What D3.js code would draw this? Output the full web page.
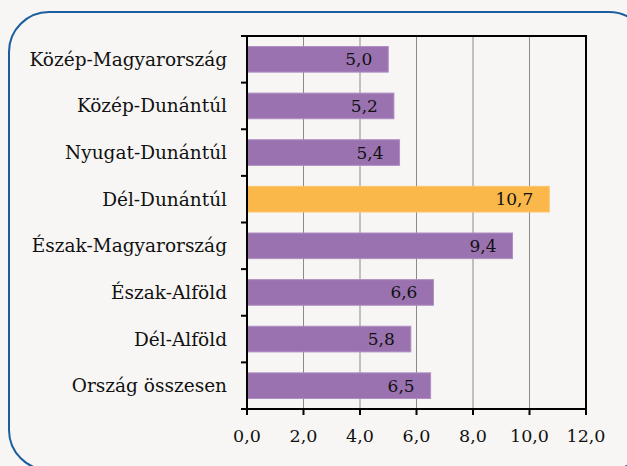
<!DOCTYPE html>
<html>
  <head>
    <meta charset="utf-8" />
    <script src="https://d3js.org/d3.v7.min.js"></script>
    <style>
      body { margin: 0; background: #f7f6f4; }
      svg { display: block; }
    </style>
  </head>
  <body>
    <svg width="627" height="466"></svg>
    <script>
      const regions = [
        "Közép-Magyarország",
        "Közép-Dunántúl",
        "Nyugat-Dunántúl",
        "Dél-Dunántúl",
        "Észak-Magyarország",
        "Észak-Alföld",
        "Dél-Alföld",
        "Ország összesen",
      ];
      const values = [5.0, 5.2, 5.4, 10.7, 9.4, 6.6, 5.8, 6.5];
      const highlighted = ["Dél-Dunántúl"];
      const xTicks = [0, 2, 4, 6, 8, 10, 12];

      const fmt = (v) => v.toFixed(1).replace(".", ",");
      const font = "'DejaVu Serif', serif";
      const svg = d3.select("svg")
        .attr("font-family", font)
        .style("font-family", font);

      // keret
      svg.append("rect")
        .attr("x", 9).attr("y", 12)
        .attr("width", 640).attr("height", 458)
        .attr("rx", 40)
        .attr("fill", "#f7f6f4")
        .attr("stroke", "#1a5e9e")
        .attr("stroke-width", 2);

      const plotL = 247, plotR = 586, plotT = 36, plotB = 409;

      const x = d3.scaleLinear().domain([0, 12]).range([plotL, plotR]);
      const y = d3.scaleBand().domain(regions).range([plotT, plotB]).paddingInner(0.45).paddingOuter(0.225);
      const yEdge = d3.scaleLinear().domain([0, regions.length]).range([plotT, plotB]);

      // rács
      svg.append("g")
        .selectAll("line")
        .data(xTicks.slice(1, -1))
        .join("line")
        .attr("x1", (d) => x(d)).attr("x2", (d) => x(d))
        .attr("y1", plotT).attr("y2", plotB)
        .attr("stroke", "#8a8a8a").attr("stroke-width", 1);

      // oszlopok
      svg.append("g")
        .selectAll("rect")
        .data(regions)
        .join("rect")
        .attr("x", x(0))
        .attr("y", (d) => y(d))
        .attr("width", (d, i) => x(values[i]) - x(0))
        .attr("height", y.bandwidth())
        .attr("fill", (d) => (highlighted.includes(d) ? "#fbb84a" : "#9b72b0"))
        .attr("stroke", (d) => (highlighted.includes(d) ? "#fcc46a" : "#b08fc2"))
        .attr("stroke-width", 1);

      svg.append("g")
        .selectAll("text")
        .data(regions)
        .join("text")
        .attr("x", (d, i) => x(values[i]) - 16)
        .attr("y", (d) => y(d) + y.bandwidth() / 2)
        .attr("dy", "0.35em")
        .attr("text-anchor", "end")
        .attr("font-size", 17)
        .attr("fill", "#111")
        .text((d, i) => fmt(values[i]));

      // keret a rajzterület körül
      svg.append("rect")
        .attr("x", plotL).attr("y", plotT)
        .attr("width", plotR - plotL).attr("height", plotB - plotT)
        .attr("fill", "none").attr("stroke", "#000").attr("stroke-width", 2);

      // x tengely
      const xAxis = svg.append("g").attr("transform", `translate(0,${plotB})`);
      xAxis.selectAll("line")
        .data(xTicks)
        .join("line")
        .attr("x1", (d) => x(d)).attr("x2", (d) => x(d))
        .attr("y1", 0).attr("y2", 6)
        .attr("stroke", "#000").attr("stroke-width", 2);
      xAxis.selectAll("text")
        .data(xTicks)
        .join("text")
        .attr("x", (d) => x(d))
        .attr("y", 33)
        .attr("text-anchor", "middle")
        .attr("font-size", 17.5)
        .attr("fill", "#111")
        .text(fmt);

      // y tengely
      const yAxis = svg.append("g");
      yAxis.selectAll("line")
        .data(d3.range(regions.length + 1))
        .join("line")
        .attr("x1", plotL - 6).attr("x2", plotL)
        .attr("y1", (d) => yEdge(d)).attr("y2", (d) => yEdge(d))
        .attr("stroke", "#000").attr("stroke-width", 2);
      yAxis.selectAll("text")
        .data(regions)
        .join("text")
        .attr("x", plotL - 20)
        .attr("y", (d) => y(d) + y.bandwidth() / 2)
        .attr("dy", "0.35em")
        .attr("text-anchor", "end")
        .attr("font-size", 18.5)
        .attr("fill", "#111")
        .text((d) => d);
    </script>
  </body>
</html>
